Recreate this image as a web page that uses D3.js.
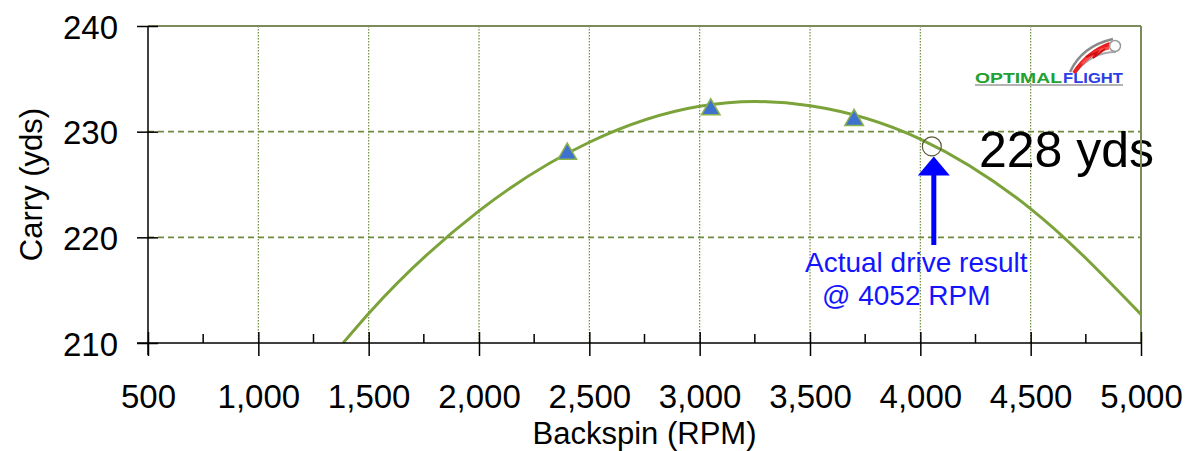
<!DOCTYPE html>
<html>
<head>
<meta charset="utf-8">
<script src="https://cdn.jsdelivr.net/npm/d3@7"></script>
<style>
  html, body { margin: 0; padding: 0; background: #fff; }
  svg { display: block; font-family: "Liberation Sans", Arial, sans-serif; }
</style>
</head>
<body>
<svg id="chart" width="1196" height="451"></svg>
<script>
// ---- data ----
const curveRpm   = [1384, 1500, 2000, 2500, 3000, 3250, 3500, 4000, 4500, 5000];
const curveCarry = [210, 212.8, 222.5, 229.0, 232.4, 232.85, 232.45, 229.3, 222.7, 212.7];
const testRpm    = [2400, 3050, 3700];
const testCarry  = [227.9, 232.1, 231.1];
const actualRpm  = [4052];
const actualCarry = [228.6];
const xTicks = [500, 1000, 1500, 2000, 2500, 3000, 3500, 4000, 4500, 5000];
const xMinorTicks = [750, 1250, 1750, 2250, 2750, 3250, 3750, 4250, 4750];
const yTicks = [210, 220, 230, 240];
const xTitle = "Backspin (RPM)";
const yTitle = "Carry (yds)";
const resultLabel = "228 yds";
const noteLines = ["Actual drive result", "@ 4052 RPM"];

// ---- layout ----
const L = 148, R = 1141, T = 26, B = 343;
const svg = d3.select("#chart");
const x = d3.scaleLinear().domain([500, 5000]).range([L, R]);
const y = d3.scaleLinear().domain([210, 240]).range([B, T]);

const gridCol = "#6f8b3d";
const frameCol = "#7b8c5a";
const curveCol = "#7ba33a";

// vertical dotted gridlines
svg.append("g").selectAll("line")
  .data(xTicks.filter(d => d > 500 && d < 5000))
  .join("line")
  .attr("x1", d => x(d)).attr("x2", d => x(d))
  .attr("y1", T).attr("y2", B)
  .attr("stroke", gridCol).attr("stroke-width", 1.2)
  .attr("stroke-dasharray", "1.5,1.5");

// horizontal dashed gridlines
svg.append("g").selectAll("line")
  .data(yTicks.filter(d => d > 210 && d < 240))
  .join("line")
  .attr("x1", L).attr("x2", R)
  .attr("y1", d => y(d)).attr("y2", d => y(d))
  .attr("stroke", gridCol).attr("stroke-width", 1.6)
  .attr("stroke-dasharray", "6,4");

// big result label (behind frame)
svg.append("text")
  .attr("x", 979).attr("y", 167)
  .attr("font-size", 50).attr("fill", "#000")
  .text(resultLabel);

// frame top and right
svg.append("line").attr("x1", L).attr("x2", R).attr("y1", T).attr("y2", T)
  .attr("stroke", frameCol).attr("stroke-width", 2);
svg.append("line").attr("x1", R).attr("x2", R).attr("y1", T).attr("y2", B)
  .attr("stroke", frameCol).attr("stroke-width", 2);

// clip
svg.append("clipPath").attr("id", "plotclip")
  .append("rect").attr("x", L).attr("y", T).attr("width", R - L).attr("height", B - T);

// curve
const pts = curveRpm.map((r, i) => [r, curveCarry[i]]);
const line = d3.line().x(d => x(d[0])).y(d => y(d[1])).curve(d3.curveMonotoneX);
svg.append("path").attr("d", line(pts))
  .attr("clip-path", "url(#plotclip)")
  .attr("fill", "none").attr("stroke", curveCol).attr("stroke-width", 3);

// test points (triangles)
const tri = d3.symbol().type(d3.symbolTriangle).size(150);
svg.append("g").selectAll("path")
  .data(testRpm.map((r, i) => [r, testCarry[i]]))
  .join("path")
  .attr("d", tri)
  .attr("transform", d => `translate(${x(d[0])},${y(d[1])})`)
  .attr("fill", "#3f72cf").attr("stroke", "#8bb34d").attr("stroke-width", 1.5);

// actual result marker
const ax = x(actualRpm[0]), ay = y(actualCarry[0]);
svg.append("circle").attr("cx", ax).attr("cy", ay).attr("r", 9.5)
  .attr("fill", "none").attr("stroke", "#5a5a3a").attr("stroke-width", 1.2);

// arrow
const arrowX = ax + 2;
const tipY = ay + 10;
svg.append("rect").attr("x", arrowX - 2.5).attr("y", tipY + 16).attr("width", 5).attr("height", 245 - (tipY + 16))
  .attr("fill", "#0000ff");
svg.append("path")
  .attr("d", `M${arrowX},${tipY} L${arrowX - 16},${tipY + 19} L${arrowX + 16},${tipY + 19} Z`)
  .attr("fill", "#0000ff");

svg.append("text").attr("x", 805).attr("y", 272).attr("font-size", 28).attr("fill", "#1414ff").text(noteLines[0]);
svg.append("text").attr("x", 822).attr("y", 305).attr("font-size", 28).attr("fill", "#1414ff").text(noteLines[1]);

// ---- axes ----
const yAxis = d3.axisLeft(y).tickValues(yTicks).tickSize(11).tickPadding(0);
const gy = svg.append("g").attr("transform", `translate(${L},0)`).call(yAxis);
gy.select(".domain").remove();
gy.selectAll(".tick line").attr("x1", 10).attr("x2", -11).attr("stroke", "#000").attr("stroke-width", 1.5);
gy.selectAll(".tick text").attr("x", -30).attr("dy", 0).attr("y", 12)
  .attr("font-size", 33).attr("font-family", "Liberation Sans, Arial, sans-serif").attr("fill", "#000");

const xAxis = d3.axisBottom(x).tickValues(xTicks).tickFormat(d3.format(",")).tickSize(12).tickPadding(0);
const gx = svg.append("g").attr("transform", `translate(0,${B})`).call(xAxis);
gx.select(".domain").remove();
gx.selectAll(".tick line").attr("y1", -11).attr("y2", 13).attr("stroke", "#000").attr("stroke-width", 1.5);
gx.selectAll(".tick text").attr("y", 65).attr("dy", 0)
  .attr("font-size", 33).attr("font-family", "Liberation Sans, Arial, sans-serif").attr("fill", "#000");

// minor ticks
svg.append("g").selectAll("line").data(xMinorTicks).join("line")
  .attr("x1", d => x(d)).attr("x2", d => x(d)).attr("y1", B - 9).attr("y2", B)
  .attr("stroke", "#000").attr("stroke-width", 1.5);

// axis lines
svg.append("line").attr("x1", L).attr("x2", L).attr("y1", T).attr("y2", B + 12)
  .attr("stroke", "#000").attr("stroke-width", 1.5);
svg.append("line").attr("x1", L - 11).attr("x2", R).attr("y1", B).attr("y2", B)
  .attr("stroke", "#000").attr("stroke-width", 1.5);

// axis titles
svg.append("text").attr("x", (L + R) / 2).attr("y", 444).attr("text-anchor", "middle")
  .attr("font-size", 31).attr("fill", "#000").text(xTitle);
svg.append("text").attr("transform", `translate(42,${(T + B) / 2}) rotate(-90)`)
  .attr("text-anchor", "middle").attr("font-size", 31).attr("fill", "#000").text(yTitle);

// ---- logo ----
const logo = svg.append("g");
logo.append("path").attr("d", "M1070,72 Q1082,46 1113,39").attr("fill", "none").attr("stroke", "#8a8a8a").attr("stroke-width", 2.5);
logo.append("path").attr("d", "M1076,72 Q1092,52 1116,52").attr("fill", "none").attr("stroke", "#a8a8a8").attr("stroke-width", 2);
logo.append("path").attr("d", "M1074,73 Q1088,52 1110,44").attr("fill", "none").attr("stroke", "#e82020").attr("stroke-width", 4);
logo.append("path").attr("d", "M1082,64 Q1094,50 1109,48").attr("fill", "none").attr("stroke", "#ff4a4a").attr("stroke-width", 3);
logo.append("path").attr("d", "M1086,57 L1097,52 L1093,58 L1105,49").attr("fill", "none").attr("stroke", "#d01010").attr("stroke-width", 2);
logo.append("circle").attr("cx", 1115).attr("cy", 46).attr("r", 5.5).attr("fill", "#fff").attr("stroke", "#999").attr("stroke-width", 1.5);
logo.append("line").attr("x1", 975).attr("x2", 1123).attr("y1", 85).attr("y2", 85).attr("stroke", "#9a9a9a").attr("stroke-width", 1.5);
logo.append("text").attr("x", 975).attr("y", 83).attr("font-size", 15).attr("font-weight", "bold")
  .attr("textLength", 87).attr("lengthAdjust", "spacingAndGlyphs").attr("fill", "#22a030").text("OPTIMAL");
logo.append("text").attr("x", 1063).attr("y", 83).attr("font-size", 15).attr("font-weight", "bold")
  .attr("textLength", 60).attr("lengthAdjust", "spacingAndGlyphs").attr("fill", "#2a40e6").text("FLIGHT");
</script>
</body>
</html>
